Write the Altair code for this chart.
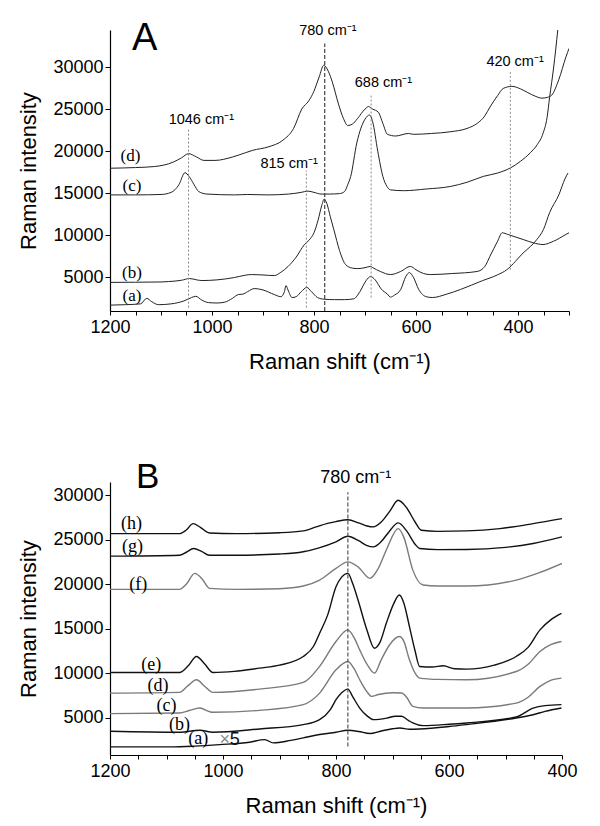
import altair as alt
import pandas as pd

# ---------------- Panel A spectra (Raman shift cm-1, intensity) ----------------
A_a_x = [1200, 1170, 1140, 1128, 1118, 1105, 1080, 1055, 1040, 1032, 1020, 1007, 990, 975, 960, 948, 940, 930, 917, 900, 878, 865, 858, 855, 851, 843, 835, 825, 814, 805, 793, 780, 760, 740, 722, 710, 698, 689, 680, 668, 656, 650, 642, 630, 620, 613, 605, 595, 580, 568, 540, 513, 470, 440, 422, 405, 390, 375, 363, 350, 338, 320, 308, 302]
A_a_y = [1700, 1750, 1850, 2500, 2100, 1750, 1850, 2200, 2600, 2750, 2300, 2000, 1950, 2050, 2500, 2960, 3000, 3300, 3670, 3500, 2960, 2700, 3300, 4030, 3500, 2600, 2700, 3300, 3800, 3300, 2600, 2400, 2350, 2350, 2450, 3300, 4600, 5100, 4700, 3600, 3000, 2650, 2900, 3550, 5100, 5560, 5000, 3600, 2700, 2600, 3000, 3550, 4600, 5300, 5900, 6900, 7900, 8700, 9500, 10700, 12700, 14800, 16700, 17400]

A_b_x = [1200, 1150, 1100, 1085, 1060, 1044, 1030, 1020, 990, 956, 935, 923, 900, 878, 865, 851, 835, 819, 810, 800, 792, 785, 780, 775, 768, 761, 750, 738, 725, 714, 700, 689, 685, 670, 650, 630, 611, 600, 585, 572, 530, 480, 465, 455, 440, 431, 420, 400, 390, 370, 351, 330, 306, 300]
A_b_y = [4400, 4420, 4450, 4500, 4650, 4860, 4700, 4620, 4700, 4980, 5250, 5330, 5280, 5210, 5600, 6280, 7400, 8880, 9400, 10300, 11800, 13500, 14300, 13800, 12200, 10660, 8200, 6520, 6100, 6040, 6150, 6300, 6160, 5700, 5330, 5700, 6300, 5900, 5450, 5330, 5450, 5700, 6300, 7500, 9300, 10300, 10100, 9700, 9500, 9100, 8900, 9300, 10100, 10300]

A_c_x = [1200, 1150, 1100, 1080, 1065, 1053, 1045, 1035, 1026, 1010, 956, 930, 890, 850, 825, 812, 800, 786, 770, 750, 740, 734, 728, 716, 700, 691, 685, 675, 665, 657, 650, 624, 580, 533, 500, 468, 440, 415, 395, 376, 362, 351, 343, 338, 330, 322]
A_c_y = [14800, 14800, 14850, 15100, 16000, 17440, 17000, 16000, 15200, 14900, 14800, 14850, 14800, 14900, 15100, 15250, 15100, 14900, 14900, 14950, 15200, 16000, 17000, 21000, 23800, 24300, 23500, 20000, 17000, 15800, 15400, 15300, 15500, 15800, 16300, 17000, 17400, 18000, 18800, 19800, 20800, 22100, 24000, 26400, 30000, 34400]

A_d_x = [1200, 1150, 1113, 1076, 1060, 1046, 1030, 1016, 994, 960, 935, 920, 890, 861, 840, 824, 810, 801, 790, 781, 772, 764, 752, 742, 734, 725, 715, 700, 693, 685, 674, 665, 656, 640, 615, 605, 570, 533, 500, 480, 465, 455, 440, 429, 412, 395, 382, 365, 353, 342, 334, 320, 306, 300]
A_d_y = [17970, 18050, 18170, 18700, 19200, 19700, 19300, 18900, 18900, 19300, 19800, 20100, 20500, 21300, 22700, 25000, 26000, 27000, 28800, 30200, 29500, 28200, 25600, 23850, 23050, 23200, 23850, 25000, 25300, 25000, 24640, 23300, 22000, 21800, 22100, 22000, 22100, 22300, 22700, 23300, 24200, 25240, 26600, 27450, 27700, 27400, 27000, 26500, 26300, 26400, 26650, 28500, 31200, 32200]

# ---------------- Panel B spectra ----------------
B_h_x = [1200, 1077, 1065, 1053, 1040, 1024, 976, 900, 858, 835, 815, 800, 779, 760, 745, 734, 720, 705, 690, 675, 660, 649, 620, 569, 510, 451, 400]
B_h_y = [25700, 25700, 26100, 26820, 26400, 25770, 25700, 25800, 26000, 26450, 26850, 27050, 27250, 26900, 26550, 26450, 27000, 28200, 29440, 28600, 27000, 26080, 25950, 26000, 26260, 26820, 27380]

B_g_x = [1200, 1077, 1065, 1052, 1038, 1024, 976, 900, 858, 830, 800, 779, 760, 745, 734, 720, 705, 690, 675, 660, 652, 620, 569, 500, 451, 400]
B_g_y = [23160, 23270, 23600, 24020, 23700, 23270, 23270, 23400, 23650, 24100, 24770, 25400, 24900, 24350, 24210, 24800, 26000, 26900, 26000, 24500, 24020, 23900, 23910, 24150, 24580, 25330]

B_f_x = [1200, 1077, 1065, 1050, 1037, 1024, 976, 900, 858, 829, 800, 779, 760, 740, 725, 710, 690, 680, 664, 646, 620, 569, 481, 440, 400]
B_f_y = [19420, 19420, 20000, 21220, 20600, 19540, 19420, 19500, 19800, 20470, 21780, 22520, 21900, 20660, 21800, 24000, 26260, 25300, 21590, 19910, 19800, 19800, 20470, 21300, 22340]

B_e_x = [1200, 1077, 1062, 1047, 1032, 1018, 980, 935, 900, 858, 840, 829, 815, 800, 790, 779, 770, 761, 745, 732, 722, 711, 698, 688, 680, 670, 660, 652, 630, 610, 590, 569, 520, 481, 460, 439, 420, 401]
B_e_y = [10080, 10080, 10800, 11880, 11000, 10080, 10200, 10570, 10900, 11880, 13000, 14490, 16500, 19720, 20800, 21220, 20000, 18230, 14800, 12810, 13500, 15610, 17800, 18790, 17900, 15240, 12500, 10760, 10700, 10830, 10500, 10460, 10900, 11880, 12900, 14870, 16000, 16730]

B_d_x = [1200, 1077, 1062, 1047, 1032, 1018, 935, 858, 829, 800, 779, 768, 758, 745, 732, 720, 705, 688, 680, 670, 660, 652, 620, 569, 481, 460, 439, 420, 401]
B_d_y = [7760, 7840, 8600, 9260, 8500, 7840, 8210, 8960, 10760, 13560, 14870, 14000, 12620, 11000, 10010, 11500, 13200, 14120, 13600, 11500, 10000, 9450, 9300, 9260, 10190, 11000, 12440, 13200, 13560]

B_c_x = [1200, 1077, 1060, 1041, 1025, 1018, 935, 858, 829, 800, 779, 768, 758, 745, 737, 725, 700, 684, 675, 664, 646, 569, 481, 460, 439, 420, 401]
B_c_y = [5450, 5520, 5800, 6080, 5700, 5600, 5820, 6460, 7760, 10380, 11310, 10500, 9260, 7900, 7390, 7600, 7800, 7770, 7300, 6270, 6080, 6080, 6640, 7300, 8510, 9200, 9450]

B_b_x = [1200, 1077, 1041, 1018, 935, 858, 829, 810, 800, 790, 779, 770, 758, 745, 734, 710, 695, 684, 672, 664, 646, 600, 569, 481, 451, 430, 401]
B_b_y = [3470, 3360, 3580, 3360, 3730, 4220, 4780, 5900, 7020, 7800, 8210, 7300, 6080, 5200, 4780, 4950, 5150, 5150, 4700, 4400, 4100, 4250, 4400, 5070, 6080, 6350, 6460]

B_a_x = [1200, 1094, 1050, 1006, 953, 926, 911, 880, 858, 829, 800, 779, 760, 740, 720, 700, 687, 670, 652, 600, 569, 481, 451, 430, 401]
B_a_y = [1710, 1710, 1800, 1970, 2240, 2530, 2160, 2450, 2720, 3100, 3360, 3580, 3450, 3210, 3500, 3750, 3840, 3700, 3730, 4000, 4220, 4960, 5330, 5700, 6080]

B_series_tone = {"a": "black", "b": "black", "c": "gray", "d": "gray",
                 "e": "black", "f": "gray", "g": "black", "h": "black"}

# ---------------- annotations ----------------
A_mark_shift = [1046, 815, 688, 415]
A_mark_low = [1400, 1400, 2600, 5900]
A_mark_high = [22700, 17700, 26600, 29400]
A_main_shift, A_main_low, A_main_high = [779], [1000], [32800]

A_note_text = ["1046 cm⁻¹", "780 cm⁻¹", "688 cm⁻¹", "815 cm⁻¹", "420 cm⁻¹"]
A_note_x = [1085, 829, 720, 905, 462]
A_note_y = [23700, 34300, 28100, 18490, 30570]

A_lab_text = ["(a)", "(b)", "(c)", "(d)"]
A_lab_x = [1157, 1157, 1157, 1160]
A_lab_y = [2730, 5570, 15900, 19400]

B_line_shift, B_line_low, B_line_high = [779], [1760], [30350]
B_note_text, B_note_x, B_note_y = ["780 cm⁻¹"], [828], [31900]

B_lab_text = ["(h)", "(g)", "(f)", "(e)", "(d)", "(c)", "(b)", "(a)"]
B_lab_x = [1162, 1160, 1150, 1127, 1115, 1100, 1077, 1044]
B_lab_y = [26830, 24140, 19910, 10940, 8510, 6270, 4220, 2610]
B_times_text, B_times_x, B_times_y, B_times_col = ["×", "5"], [997, 979], [2530, 2530], ["gray", "black"]

panel_letters = {"A": (1157, 32000), "B": (1154, 30800)}

# ---------------- build tables ----------------
def long_frame(pairs):
    rows = []
    for name, (xs, ys) in pairs.items():
        for x, y in zip(xs, ys):
            rows.append({"series": name, "shift": x, "intensity": y})
    return pd.DataFrame(rows)

dfA = long_frame({"a": (A_a_x, A_a_y), "b": (A_b_x, A_b_y), "c": (A_c_x, A_c_y), "d": (A_d_x, A_d_y)})
dfB = long_frame({"a": (B_a_x, B_a_y), "b": (B_b_x, B_b_y), "c": (B_c_x, B_c_y), "d": (B_d_x, B_d_y),
                  "e": (B_e_x, B_e_y), "f": (B_f_x, B_f_y), "g": (B_g_x, B_g_y), "h": (B_h_x, B_h_y)})
dfB["tone"] = dfB["series"].map(B_series_tone)

FONT = "Liberation Sans"
SERIF = "Liberation Serif"
XTITLE = "Raman shift (cm⁻¹)"
YTITLE = "Raman intensity"


def make_enc(xdom, ydom):
    xs = alt.Scale(domain=xdom, reverse=True, nice=False, zero=False)
    ys = alt.Scale(domain=ydom, nice=False, zero=False)
    xaxis = alt.Axis(values=list(range(xdom[0], xdom[1] + 1, 50)), format="d",
                     labelExpr="datum.value % 200 == 0 ? datum.label : ''",
                     tickSize=4, labelPadding=3, titlePadding=15, labelFlush=False,
                     labelFont=FONT, titleFont=FONT, labelFontSize=18, titleFontSize=22,
                     titleFontWeight="normal", labelColor="black", titleColor="black",
                     domainColor="black", tickColor="black", grid=False, domainWidth=1.2)
    yaxis = alt.Axis(values=[5000, 10000, 15000, 20000, 25000, 30000], format="d",
                     tickSize=5, titlePadding=12,
                     labelFont=FONT, titleFont=FONT, labelFontSize=18, titleFontSize=22,
                     titleFontWeight="normal", labelColor="black", titleColor="black",
                     domainColor="black", tickColor="black", grid=False, domainWidth=1.2)

    def X(field):
        return alt.X(f"{field}:Q", scale=xs, axis=xaxis, title=XTITLE)

    def Y(field):
        return alt.Y(f"{field}:Q", scale=ys, axis=yaxis, title=YTITLE)
    return X, Y


# ---------------- Panel A ----------------
XA, YA = make_enc([300, 1200], [1000, 34400])

linesA = alt.Chart(dfA).mark_line(interpolate="monotone", strokeWidth=1, color="#222", clip=True).encode(
    x=XA("shift"), y=YA("intensity"), detail="series:N")

vA = pd.DataFrame({"shift": A_mark_shift, "lo": A_mark_low, "hi": A_mark_high})
dotsA = alt.Chart(vA).mark_rule(strokeDash=[2, 2], color="#888", strokeWidth=1).encode(
    x=XA("shift"), y=YA("lo"), y2="hi:Q")
mainA = alt.Chart(pd.DataFrame({"shift": A_main_shift, "lo": A_main_low, "hi": A_main_high})).mark_rule(
    strokeDash=[4, 2], color="#444", strokeWidth=1.2).encode(x=XA("shift"), y=YA("lo"), y2="hi:Q")

notesA = alt.Chart(pd.DataFrame({"t": A_note_text, "x": A_note_x, "y": A_note_y})).mark_text(
    align="left", baseline="middle", font=FONT, fontSize=14.5, color="black").encode(
    x=XA("x"), y=YA("y"), text="t:N")
labsA = alt.Chart(pd.DataFrame({"t": A_lab_text, "x": A_lab_x, "y": A_lab_y})).mark_text(
    align="center", baseline="middle", font=SERIF, fontSize=17, color="black").encode(
    x=XA("x"), y=YA("y"), text="t:N")
letA = alt.Chart(pd.DataFrame({"t": ["A"], "x": [panel_letters["A"][0]], "y": [panel_letters["A"][1]]})).mark_text(
    align="left", baseline="alphabetic", font=FONT, fontSize=38, color="black").encode(
    x=XA("x"), y=YA("y"), text="t:N")

chartA = alt.layer(linesA, dotsA, mainA, notesA, labsA, letA).properties(width=459, height=281)

# ---------------- Panel B ----------------
XB, YB = make_enc([400, 1200], [800, 31500])

linesB = alt.Chart(dfB).mark_line(interpolate="monotone", strokeWidth=1.4, clip=True).encode(
    x=XB("shift"), y=YB("intensity"), detail="series:N",
    color=alt.Color("tone:N", scale=alt.Scale(domain=["black", "gray"], range=["#111111", "#7a7a7a"]), legend=None))

mainB = alt.Chart(pd.DataFrame({"shift": B_line_shift, "lo": B_line_low, "hi": B_line_high})).mark_rule(
    strokeDash=[4, 2], color="#555", strokeWidth=1.2).encode(x=XB("shift"), y=YB("lo"), y2="hi:Q")
notesB = alt.Chart(pd.DataFrame({"t": B_note_text, "x": B_note_x, "y": B_note_y})).mark_text(
    align="left", baseline="middle", font=FONT, fontSize=18, color="black").encode(
    x=XB("x"), y=YB("y"), text="t:N")
labsB = alt.Chart(pd.DataFrame({"t": B_lab_text, "x": B_lab_x, "y": B_lab_y})).mark_text(
    align="center", baseline="middle", font=SERIF, fontSize=18, color="black").encode(
    x=XB("x"), y=YB("y"), text="t:N")
timesB = alt.Chart(pd.DataFrame({"t": B_times_text, "x": B_times_x, "y": B_times_y, "c": B_times_col})).mark_text(
    align="center", baseline="middle", font=FONT, fontSize=18).encode(
    x=XB("x"), y=YB("y"), text="t:N",
    color=alt.Color("c:N", scale=alt.Scale(domain=["gray", "black"], range=["#888888", "#111111"]), legend=None))
letB = alt.Chart(pd.DataFrame({"t": ["B"], "x": [panel_letters["B"][0]], "y": [panel_letters["B"][1]]})).mark_text(
    align="left", baseline="alphabetic", font=FONT, fontSize=35, color="black").encode(
    x=XB("x"), y=YB("y"), text="t:N")

chartB = alt.layer(linesB, mainB, notesB, labsB, timesB, letB).resolve_scale(color="independent").properties(
    width=452, height=273)

chart = alt.vconcat(chartA, chartB, spacing=88).properties(
    padding={"left": 9, "top": 12, "right": 5, "bottom": 5}, background="white"
).configure_view(stroke=None)

chart.save("out.html", embed_options={"renderer": "svg", "actions": False})
